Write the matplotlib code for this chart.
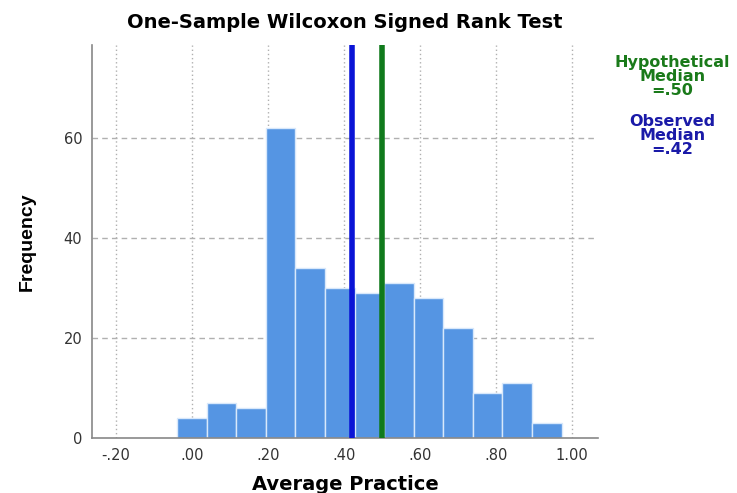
import numpy as np
import matplotlib.pyplot as plt

plt.rcParams['font.family'] = ['DejaVu Sans']

# histogram bins
bin_start = -0.039
bin_width = 0.0778
counts = [4, 7, 6, 62, 34, 30, 29, 31, 28, 22, 9, 11, 3]

hyp_median = 0.50
obs_median = 0.42

x_ticks = [-0.2, 0.0, 0.2, 0.4, 0.6, 0.8, 1.0]
x_labels = ["-.20", ".00", ".20", ".40", ".60", ".80", "1.00"]
y_ticks = [0, 20, 40, 60]

fig = plt.figure(figsize=(7.37, 4.93), dpi=100)
ax = fig.add_axes([0.1248, 0.1116, 0.6866, 0.7971])

lefts = bin_start + bin_width * np.arange(len(counts))
ax.bar(lefts, counts, width=bin_width, align="edge", color="#5595e3",
       edgecolor="#d8e8fb", linewidth=1.0, zorder=2)

ax.axvline(obs_median, color="#0a14d6", linewidth=4, zorder=3)
ax.axvline(hyp_median, color="#107a1c", linewidth=4, zorder=3)

ax.set_xlim(-0.263, 1.068)
ax.set_ylim(0, 78.6)
ax.set_xticks(x_ticks)
ax.set_xticklabels(x_labels)
ax.set_yticks(y_ticks)
ax.tick_params(length=0, labelsize=10.5, colors="#333333", pad=7)

for x in x_ticks:
    ax.axvline(x, color="#b0b0b0", linestyle=(0, (1, 2)), linewidth=1, zorder=1)
for y in y_ticks[1:]:
    ax.axhline(y, color="#b0b0b0", linestyle=(0, (4, 3)), linewidth=1, zorder=1)

for s in ["top", "right"]:
    ax.spines[s].set_visible(False)
for s in ["left", "bottom"]:
    ax.spines[s].set_color("#888888")
    ax.spines[s].set_linewidth(1.2)

ax.set_xlabel("Average Practice", fontsize=14, fontweight="bold", labelpad=9)
ax.set_ylabel("Frequency", fontsize=14, fontweight="bold", labelpad=20,
              family="Liberation Sans")
ax.set_title("One-Sample Wilcoxon Signed Rank Test", fontsize=14,
             fontweight="bold", pad=12)

fig.text(0.912, 0.888, "Hypothetical\nMedian\n=.50", color="#1a7a1a",
         fontsize=11.5, fontweight="bold", ha="center", va="top",
         linespacing=0.92)
fig.text(0.912, 0.768, "Observed\nMedian\n=.42", color="#1a1aa8",
         fontsize=11.5, fontweight="bold", ha="center", va="top",
         linespacing=0.92)

fig.savefig("out.png", dpi=100)
